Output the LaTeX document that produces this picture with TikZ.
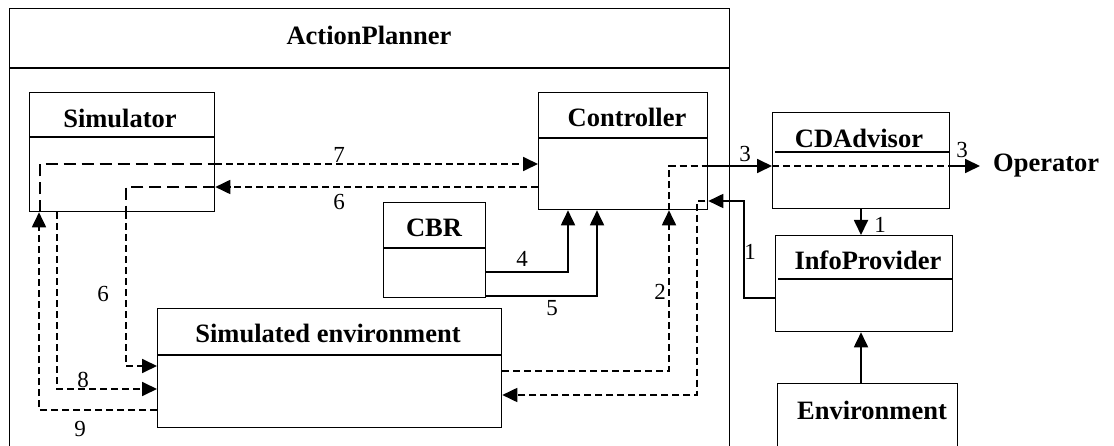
\documentclass[tikz,border=0pt]{standalone}
\usepackage{fontspec}
\setmainfont{Liberation Serif}
\usetikzlibrary{arrows.meta,calc}
\begin{document}
\begin{tikzpicture}[x=1pt,y=-1pt,
  box/.style={draw, line width=1.3pt, inner sep=0pt, anchor=north west},
  ttl/.style={font=\fontsize{26.5}{30}\selectfont\bfseries, inner sep=0pt, anchor=base},
  num/.style={font=\fontsize{23}{26}\selectfont, inner sep=0pt, anchor=base},
  sepline/.style={line width=2pt},
  conn/.style={line width=1.8pt},
  sd/.style={conn, dash pattern=on 7pt off 4pt},
  ld/.style={conn, dash pattern=on 12pt off 6pt},
  tip/.style={-{Triangle[length=15pt,width=14pt]}},
]
\useasboundingbox (0,0) rectangle (1114,446);

% boxes
\node[box, minimum width=720pt, minimum height=470pt] (ap) at (9,8) {};
\node[box, minimum width=185pt, minimum height=119pt] (sim) at (29,92) {};
\node[box, minimum width=169pt, minimum height=117pt] (ctrl) at (538,92) {};
\node[box, minimum width=102pt, minimum height=95pt] (cbr) at (383,202) {};
\node[box, minimum width=344pt, minimum height=119pt] (senv) at (157,308) {};
\node[box, minimum width=177pt, minimum height=96pt] (cda) at (772,112) {};
\node[box, minimum width=177pt, minimum height=96pt] (info) at (775,235) {};
\node[box, minimum width=180pt, minimum height=90pt] (env) at (777,383) {};

% separators
\draw[sepline] (ap.west |- 0,68) -- (ap.east |- 0,68);
\draw[sepline] (sim.west |- 0,137) -- (sim.east |- 0,137);
\draw[sepline] (ctrl.west |- 0,138) -- (ctrl.east |- 0,138);
\draw[sepline] (cbr.west |- 0,248) -- (cbr.east |- 0,248);
\draw[sepline] (senv.west |- 0,355) -- (senv.east |- 0,355);
\draw[sepline] (775,152) -- (cda.east |- 0,152);
\draw[sepline] (778,279) -- (info.east |- 0,279);

% titles
\node[ttl] (tap) at (369,45) {ActionPlanner};
\node[ttl] (tsim) at (120,128) {Simulator};
\node[ttl] (tctrl) at (627,127) {Controller};
\node[ttl] (tcbr) at (434,237) {CBR};
\node[ttl] (tsenv) at (328,343) {Simulated environment};
\node[ttl] (tcda) at (859,148) {CDAdvisor};
\node[ttl] (tinfo) at (868,270) {InfoProvider};
\node[ttl] (tenv) at (872,419) {Environment};
\node[ttl, anchor=base west, inner xsep=13pt] (oper) at (980,172) {Operator};

% routing coordinates
\coordinate (c7) at (40,164);
\coordinate (c6) at (126,187);
\coordinate (c6b) at (126,366);
\coordinate (c8) at (57,389);
\coordinate (c9) at (39,410);
\coordinate (c4) at (568,272);
\coordinate (c5) at (597,296);
\coordinate (c2) at (669,371);
\coordinate (c3) at (669,166);
\coordinate (c1) at (744,298);
\coordinate (c1b) at (744,201);
\coordinate (c1c) at (697,201);
\coordinate (c1d) at (697,395);
\coordinate (ci) at (861,0);

% 7
\draw[ld] (sim.south -| c7) -- (c7) -- (sim.east |- c7);
\draw[sd,tip] (sim.east |- c7) -- (ctrl.west |- c7);
% 6
\draw[sd,tip] (ctrl.west |- c6) -- (sim.east |- c6);
\draw[ld] (sim.east |- c6) -- (c6) -- (sim.south -| c6);
\draw[sd,tip] (sim.south -| c6) -- (c6b) -- (senv.west |- c6b);
% 8
\draw[sd,tip] (sim.south -| c8) -- (c8) -- (senv.west |- c8);
% 9
\draw[sd,tip] (senv.west |- c9) -- (c9) -- (sim.south -| c9);
% 4, 5
\draw[conn,tip] (cbr.east |- c4) -- (c4) -- (ctrl.south -| c4);
\draw[conn,tip] (cbr.east |- c5) -- (c5) -- (ctrl.south -| c5);
% 2
\draw[sd,tip] (senv.east |- c2) -- (c2) -- (ctrl.south -| c2);
% 3
\draw[sd] (ctrl.south -| c3) -- (c3) -- (ctrl.east |- c3);
\draw[conn,tip] (ctrl.east |- c3) -- (cda.west |- c3);
\draw[sd] (cda.west |- c3) -- (cda.east |- c3);
\draw[conn,tip] (cda.east |- c3) -- (oper.west |- c3);
% 1
\draw[conn,tip] (info.west |- c1) -- (c1) -- (c1b) -- (ctrl.east |- c1b);
\draw[sd,tip] ($(ctrl.east |- c1b)+(-3,0)$) -- (c1c) -- (c1d) -- (senv.east |- c1d);
\draw[conn,tip] (cda.south -| ci) -- (info.north -| ci);
\draw[conn,tip] (env.north -| ci) -- (info.south -| ci);

% labels
\node[num] (l7) at (339,163) {7};
\node[num] (l6a) at (339,210) {6};
\node[num] (l6b) at (103,302) {6};
\node[num] (l8) at (83,387) {8};
\node[num] (l9) at (80,436) {9};
\node[num] (l4) at (522,267) {4};
\node[num] (l5) at (552,316) {5};
\node[num] (l2) at (660,300) {2};
\node[num] (l3a) at (745,162) {3};
\node[num] (l3b) at (962,158) {3};
\node[num] (l1a) at (750,260) {1};
\node[num] (l1b) at (880,233) {1};
\end{tikzpicture}
\end{document}
